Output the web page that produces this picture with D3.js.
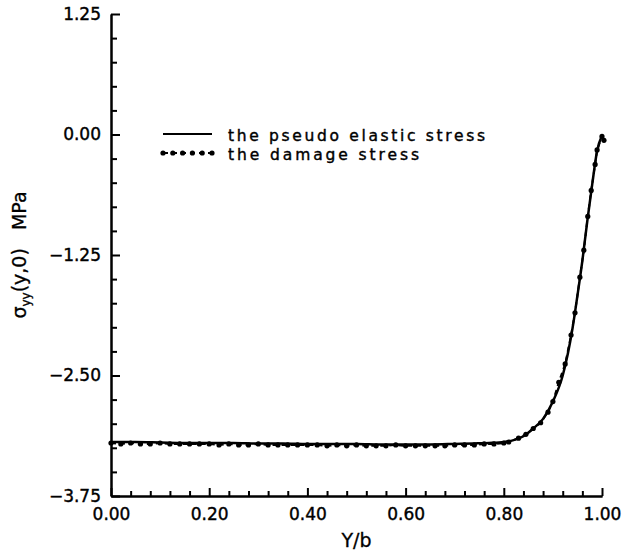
<!DOCTYPE html>
<html lang="en">
<head>
  <meta charset="UTF-8">
  <title>sigma_yy(y,0) vs Y/b</title>
  <script src="https://d3js.org/d3.v7.min.js"></script>
  <style>
    body {
      margin: 0;
      background: #fff;
      font-family: "DejaVu Sans", Arial, sans-serif;
    }
    .axis path, .axis line {
      stroke: #000;
      stroke-width: 2;
    }
    .axis text {
      font-family: "DejaVu Sans", sans-serif;
      font-size: 17px;
      fill: #000;
      stroke: #000;
      stroke-width: 0.4;
    }
    .legend-text {
      font-size: 15.5px;
      stroke: #000;
      stroke-width: 0.4;
    }
    .axis-label {
      font-size: 19px;
      stroke: #000;
      stroke-width: 0.3;
    }
  </style>
</head>
<body>
  <div id="chart"></div>
  <script>
    // pseudo elastic stress (solid line)
    const elasticX = [0, 0.05, 0.10, 0.15, 0.20, 0.25, 0.30, 0.35, 0.40, 0.45, 0.50, 0.55, 0.60, 0.65, 0.70, 0.74, 0.77, 0.80, 0.82, 0.84, 0.86, 0.88, 0.90, 0.92, 0.94, 0.95, 0.96, 0.97, 0.98, 0.99, 1.00];
    const elasticY = [-3.19, -3.19, -3.195, -3.20, -3.20, -3.20, -3.205, -3.205, -3.21, -3.21, -3.21, -3.215, -3.215, -3.215, -3.21, -3.205, -3.20, -3.19, -3.17, -3.13, -3.05, -2.95, -2.77, -2.50, -2.01, -1.67, -1.31, -0.90, -0.52, -0.17, -0.01];

    // damage stress (dashed line with dots)
    const damageX = [0, 0.02, 0.04, 0.06, 0.08, 0.10, 0.12, 0.14, 0.16, 0.18, 0.20, 0.22, 0.24, 0.26, 0.28, 0.30, 0.32, 0.34, 0.36, 0.38, 0.40, 0.42, 0.44, 0.46, 0.48, 0.50, 0.52, 0.54, 0.56, 0.58, 0.60, 0.62, 0.64, 0.66, 0.68, 0.70, 0.72, 0.74, 0.76, 0.78, 0.80, 0.81, 0.83, 0.845, 0.86, 0.875, 0.89, 0.90, 0.912, 0.925, 0.937, 0.945, 0.955, 0.963, 0.971, 0.978, 0.986, 0.99, 1.00, 1.004];
    const damageY = [-3.20, -3.21, -3.20, -3.21, -3.21, -3.20, -3.21, -3.21, -3.21, -3.21, -3.21, -3.22, -3.21, -3.22, -3.22, -3.21, -3.22, -3.22, -3.22, -3.22, -3.22, -3.22, -3.23, -3.22, -3.23, -3.22, -3.23, -3.23, -3.23, -3.22, -3.23, -3.23, -3.23, -3.23, -3.23, -3.22, -3.22, -3.22, -3.21, -3.21, -3.20, -3.19, -3.15, -3.11, -3.05, -2.99, -2.88, -2.77, -2.57, -2.38, -2.08, -1.85, -1.48, -1.20, -0.85, -0.58, -0.31, -0.16, -0.02, -0.06];

    const xTickLabels = [0, 0.2, 0.4, 0.6, 0.8, 1.0];
    const xMinorTicks = [0.04, 0.08, 0.12, 0.16, 0.24, 0.28, 0.32, 0.36, 0.44, 0.48, 0.52, 0.56, 0.64, 0.68, 0.72, 0.76, 0.84, 0.88, 0.92, 0.96];
    const yTickLabels = [1.25, 0, -1.25, -2.5, -3.75];
    const yMinorTicks = [1.0, 0.75, 0.5, 0.25, -0.25, -0.5, -0.75, -1.0, -1.5, -1.75, -2.0, -2.25, -2.75, -3.0, -3.25, -3.5];
    const legendLabels = ["the pseudo elastic stress", "the damage stress"];

    const svgWidth = 622;
    const svgHeight = 556;
    const margin = { top: 14, right: 20, bottom: 60, left: 111 };
    const width = 602 - margin.left;
    const height = svgHeight - margin.top - margin.bottom;

    const xScale = d3.scaleLinear().domain([0, 1]).range([0, width]);
    const yScale = d3.scaleLinear().domain([-3.75, 1.25]).range([height, 0]);

    const svg = d3.select("#chart").append("svg")
      .attr("width", svgWidth)
      .attr("height", svgHeight)
      .append("g")
      .attr("transform", `translate(${margin.left},${margin.top})`);

    // axes: ticks point inward
    svg.append("g")
      .attr("class", "axis")
      .attr("transform", `translate(0,${height})`)
      .call(d3.axisBottom(xScale).tickValues(xMinorTicks).tickSizeInner(-5).tickSizeOuter(0).tickFormat(""));

    svg.append("g")
      .attr("class", "axis")
      .attr("transform", `translate(0,${height})`)
      .call(d3.axisBottom(xScale).tickValues(xTickLabels).tickSizeInner(-8).tickSizeOuter(0)
        .tickPadding(12).tickFormat(d3.format(".2f")));

    svg.append("g")
      .attr("class", "axis")
      .call(d3.axisLeft(yScale).tickValues(yMinorTicks).tickSizeInner(-6).tickSizeOuter(0).tickFormat(""));

    svg.append("g")
      .attr("class", "axis")
      .call(d3.axisLeft(yScale).tickValues(yTickLabels).tickSizeInner(-9).tickSizeOuter(0)
        .tickPadding(10).tickFormat(d3.format(".2f")))
      .selectAll(".tick text")
      .text(d => d3.format(".2f")(d).replace("-", "\u2212"));

    // curves
    const elastic = elasticX.map((x, i) => ({ x, y: elasticY[i] }));
    const damage = damageX.map((x, i) => ({ x, y: damageY[i] }));

    const line = d3.line()
      .x(d => xScale(d.x))
      .y(d => yScale(d.y))
      .curve(d3.curveMonotoneX);

    svg.append("path")
      .datum(damage)
      .attr("fill", "none")
      .attr("stroke", "#000")
      .attr("stroke-width", 2)
      .attr("stroke-dasharray", "5,4")
      .attr("d", d3.line().x(d => xScale(d.x)).y(d => yScale(d.y)));

    svg.append("path")
      .datum(elastic)
      .attr("fill", "none")
      .attr("stroke", "#000")
      .attr("stroke-width", 2.5)
      .attr("d", line);

    svg.selectAll(".dot")
      .data(damage)
      .enter()
      .append("circle")
      .attr("class", "dot")
      .attr("cx", d => xScale(d.x))
      .attr("cy", d => yScale(d.y))
      .attr("r", 2.6)
      .attr("fill", "#000");

    // legend
    const legend = svg.append("g").attr("transform", `translate(${163 - margin.left},${134 - margin.top})`);

    legend.append("line")
      .attr("x1", 0).attr("x2", 49)
      .attr("y1", 0).attr("y2", 0)
      .attr("stroke", "#000").attr("stroke-width", 2);

    legend.append("line")
      .attr("x1", 0).attr("x2", 49)
      .attr("y1", 19).attr("y2", 19)
      .attr("stroke", "#000").attr("stroke-width", 2)
      .attr("stroke-dasharray", "5,4");

    legend.selectAll(".ldot")
      .data(d3.range(6))
      .enter()
      .append("circle")
      .attr("cx", i => i * 9.8)
      .attr("cy", 19)
      .attr("r", 2.6)
      .attr("fill", "#000");

    legend.selectAll(".legend-text")
      .data(legendLabels)
      .enter()
      .append("text")
      .attr("class", "legend-text")
      .attr("x", 65)
      .attr("y", (d, i) => i * 19 + 7)
      .attr("textLength", (d, i) => i === 0 ? 257 : 191)
      .attr("lengthAdjust", "spacing")
      .text(d => d);

    // axis labels
    svg.append("text")
      .attr("class", "axis-label")
      .attr("x", xScale(0.5))
      .attr("y", height + 51)
      .attr("text-anchor", "middle")
      .text("Y/b");

    const yLabel = svg.append("text")
      .attr("class", "axis-label")
      .attr("transform", `translate(${26 - margin.left},${yScale(-1.25)}) rotate(-90)`)
      .attr("text-anchor", "middle");
    yLabel.append("tspan").text("\u03c3");
    yLabel.append("tspan").attr("font-size", "12px").attr("dy", 4).text("yy");
    yLabel.append("tspan").attr("dy", -4).text("(y,0)\u00a0\u00a0\u00a0MPa");
  </script>
</body>
</html>
